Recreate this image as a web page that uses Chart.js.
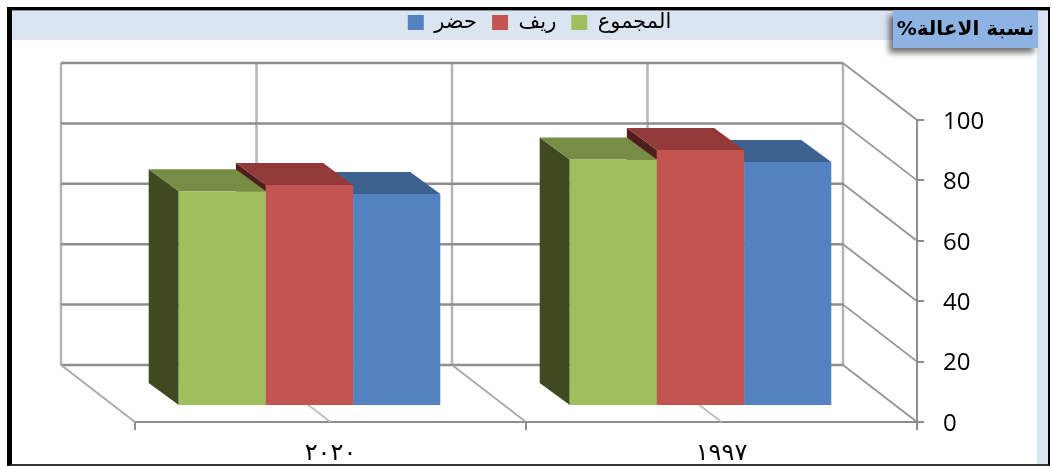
<!DOCTYPE html>
<html lang="ar">
<head>
<meta charset="utf-8">
<style>
    html, body { margin: 0; padding: 0; background: #fff; }
    #wrap { position: relative; width: 1052px; height: 466px; overflow: hidden; }
    #frame { position: absolute; left: 7px; top: 7px; width: 1043px; height: 459px; box-sizing: border-box;
        border-left: 5px solid #000; border-top: 3px solid #000; border-right: 2px solid #000; border-bottom: 2px solid #333; background: #fff; }
    #band { position: absolute; left: 12px; top: 10px; width: 1036px; height: 30px; background: #dbe5f1; border-top: 1px solid #8a8f96; box-sizing: border-box; }
    #strip { position: absolute; left: 1037px; top: 40px; width: 11px; height: 424px; background: #dbe5f1; }
    canvas { position: absolute; left: 0; top: 0; }
    #yTitle { position: absolute; left: 893px; top: 10px; width: 145px; height: 38px; background: #8db3e2;
        box-shadow: -4px 5px 6px rgba(0,0,0,.55); text-align: center; direction: rtl;
        font: bold 20px "DejaVu Sans", sans-serif; line-height: 36px; color: #000; }
</style>
</head>
<body>
<div id="wrap">
    <div id="frame"></div>
    <div id="band"></div>
    <div id="strip"></div>
    <canvas id="chart" width="1052" height="466"></canvas>
    <div id="yTitle">نسبة الاعالة%</div>
</div>
<script src="https://cdn.jsdelivr.net/npm/chart.js@4/dist/chart.umd.min.js"></script>
<script>
// 数据
const categories = ['٢٠٢٠', '١٩٩٧'];
const totalValues = [71.1, 81.6];
const ruralValues = [73.2, 84.8];
const urbanValues = [70.2, 80.8];
const yTicks = [0, 20, 40, 60, 80, 100];

// 三维效果的偏移量
const WALL = { dx: -74, dy: -57 };
const BAR_SHIFT = { dx: -21, dy: -16 };
const BAR_DEPTH = { dx: -30, dy: -22 };
const LEGEND_SHIFT = { dx: -54, dy: -3 };

function poly(ctx, pts, fill) {
    ctx.beginPath();
    pts.forEach((p, i) => i ? ctx.lineTo(p[0], p[1]) : ctx.moveTo(p[0], p[1]));
    ctx.closePath();
    ctx.fillStyle = fill;
    ctx.fill();
}

function seg(ctx, x1, y1, x2, y2, color, width) {
    ctx.beginPath();
    ctx.moveTo(x1, y1);
    ctx.lineTo(x2, y2);
    ctx.strokeStyle = color;
    ctx.lineWidth = width;
    ctx.stroke();
}

// 后墙和地板
const wallPlugin = {
    id: 'wall',
    beforeDatasetsDraw(chart) {
        const ctx = chart.ctx;
        const { left, right, top, bottom } = chart.chartArea;
        const x = chart.scales.x;
        const y = chart.scales.y;
        const mid = (left + right) / 2;
        ctx.save();
        // 竖线
        [left, x.getPixelForValue(0), mid, x.getPixelForValue(1), right].forEach(px => {
            seg(ctx, px + WALL.dx, top + WALL.dy, px + WALL.dx, bottom + WALL.dy, '#b4b4b4', 2.5);
        });
        // 横线和右侧斜线
        yTicks.forEach(v => {
            const py = y.getPixelForValue(v);
            seg(ctx, left + WALL.dx, py + WALL.dy, right + WALL.dx, py + WALL.dy, '#8e8e8e', 2.5);
            seg(ctx, right + WALL.dx, py + WALL.dy, right, py, '#949494', 1.8);
        });
        // 地板斜线
        [left, mid].forEach(px => seg(ctx, px + WALL.dx, bottom + WALL.dy, px, bottom, '#a8a8a8', 1.8));
        [x.getPixelForValue(0), x.getPixelForValue(1)].forEach(px => seg(ctx, px + WALL.dx, bottom + WALL.dy, px, bottom, '#bdbdbd', 1.8));
        ctx.restore();
    },
    // 每个系列画完侧面和顶面之后，再由 Chart.js 画正面
    beforeDatasetDraw(chart, args) {
        const ctx = chart.ctx;
        const ds = chart.data.datasets[args.index];
        const d = BAR_DEPTH;
        ctx.save();
        ctx.translate(BAR_SHIFT.dx, BAR_SHIFT.dy);
        args.meta.data.forEach(bar => {
            const l = bar.x - bar.width / 2;
            const r = bar.x + bar.width / 2;
            poly(ctx, [[l, bar.y], [l + d.dx, bar.y + d.dy], [l + d.dx, bar.base + d.dy], [l, bar.base]], ds.sideColor);
            poly(ctx, [[l, bar.y], [l + d.dx, bar.y + d.dy], [r + d.dx, bar.y + d.dy], [r, bar.y]], ds.topColor);
        });
    },
    afterDatasetDraw(chart) {
        chart.ctx.restore();
    }
};

// 图例下方留出空间，绘图区从 y=120 开始；图例按整张图居中
const legendSpace = {
    id: 'legendSpace',
    beforeInit(chart) {
        const legend = chart.legend;
        const fit = legend.fit;
        const draw = legend.draw;
        legend.fit = function () {
            fit.call(this);
            this.height = 120;
        };
        legend.draw = function () {
            this.ctx.save();
            this.ctx.translate(LEGEND_SHIFT.dx, LEGEND_SHIFT.dy);
            draw.call(this);
            this.ctx.restore();
        };
    }
};

new Chart(document.getElementById('chart'), {
    type: 'bar',
    data: {
        labels: categories,
        datasets: [
            { label: 'المجموع', data: totalValues, backgroundColor: '#9fbe5e', sideColor: '#3f4a20', topColor: '#778d45', clip: false },
            { label: 'ريف', data: ruralValues, backgroundColor: '#c4544f', sideColor: '#4f1f1e', topColor: '#923a39', clip: false },
            { label: 'حضر', data: urbanValues, backgroundColor: '#5282c0', sideColor: '#2f4a6e', topColor: '#3e6290', clip: false }
        ]
    },
    plugins: [wallPlugin, legendSpace],
    options: {
        responsive: false,
        animation: false,
        layout: { padding: { left: 135, right: 0, top: 0, bottom: 0 } },
        datasets: { bar: { categoryPercentage: 0.669, barPercentage: 1 } },
        plugins: {
            tooltip: { enabled: false },
            legend: {
                display: true,
                position: 'top',
                reverse: true,
                labels: {
                    boxWidth: 16, boxHeight: 15, padding: 15, color: '#000',
                    font: { family: '"DejaVu Sans", sans-serif', size: 21 }
                }
            }
        },
        scales: {
            x: {
                grid: { drawOnChartArea: false, color: '#8e8e8e', lineWidth: 2, tickLength: 8 },
                border: { color: '#8e8e8e', width: 2 },
                ticks: { color: '#000', padding: 9, font: { family: '"DejaVu Sans", sans-serif', size: 24 } },
                afterFit(s) { s.height = 44; }
            },
            y: {
                position: 'right',
                min: 0,
                max: 100,
                afterBuildTicks(s) { s.ticks = yTicks.map(v => ({ value: v })); },
                grid: { drawOnChartArea: false, color: '#8e8e8e', lineWidth: 2, tickLength: 7 },
                border: { color: '#8e8e8e', width: 2 },
                ticks: { color: '#000', padding: 19, labelOffset: 2, font: { family: '"Open Sans", sans-serif', size: 24 } },
                afterFit(s) { s.width = 135; }
            }
        }
    }
});
</script>
</body>
</html>
